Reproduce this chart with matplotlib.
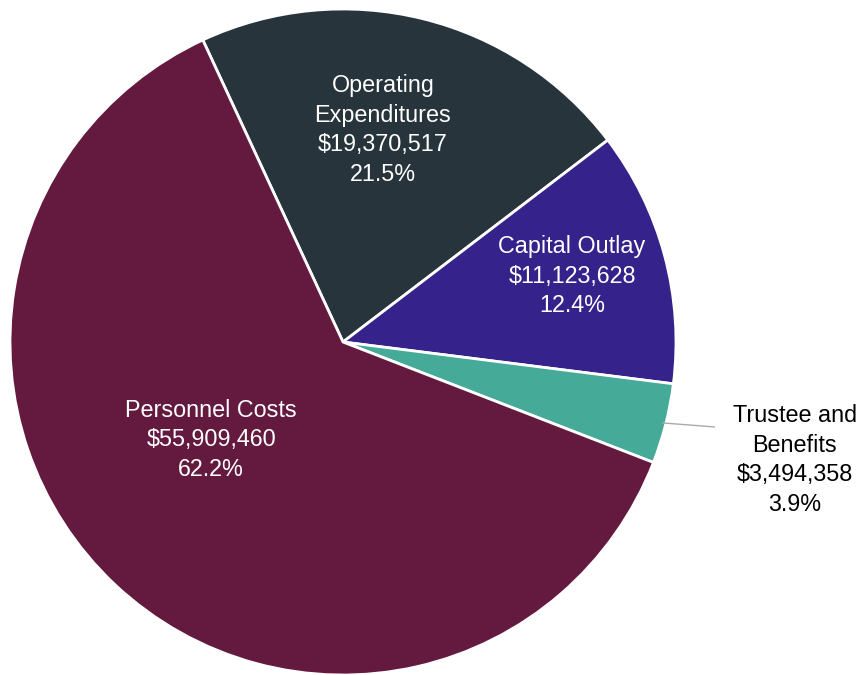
import numpy as np
import matplotlib
matplotlib.use("Agg")
import matplotlib.pyplot as plt

plt.rcParams['font.family'] = ['Liberation Sans', 'DejaVu Sans']

categories = ["Operating\nExpenditures", "Capital Outlay", "Trustee and\nBenefits", "Personnel Costs"]
amounts = [19370517, 11123628, 3494358, 55909460]
percents = ["21.5%", "12.4%", "3.9%", "62.2%"]
colors = ["#27343c", "#35228a", "#45aa98", "#641a3f"]

# label anchor points in pie-radius units
label_xy = [(0.12, 0.637), (0.688, 0.198), (1.357, -0.354), (-0.396, -0.294)]

W, H = 860, 675
cx, cy, R = 343, 342, 333

fig = plt.figure(figsize=(W / 100, H / 100), dpi=100)
ax = fig.add_axes([0, 0, 1, 1])

wedges, _ = ax.pie(amounts, colors=colors, startangle=114.9, counterclock=False,
                   radius=1, center=(0, 0),
                   wedgeprops=dict(edgecolor="white", linewidth=2))

for i, (name, amt, pct) in enumerate(zip(categories, amounts, percents)):
    txt = f"{name}\n${amt:,.0f}\n{pct}"
    outside = i == 2
    ax.text(label_xy[i][0], label_xy[i][1], txt, ha="center", va="center",
            fontsize=16.8, linespacing=1.36, multialignment="center",
            color="black" if outside else "white")
    if outside:
        w = wedges[i]
        mid = np.deg2rad((w.theta1 + w.theta2) / 2)
        ax.plot([np.cos(mid) * 0.99, np.cos(mid) * 1.15],
                [np.sin(mid) * 0.99, np.sin(mid) * 0.99 - 0.012],
                color="#aaaaaa", linewidth=1)

ax.set_xlim(-cx / R, (W - cx) / R)
ax.set_ylim(-(H - cy) / R, cy / R)
ax.set_aspect("equal")
ax.axis("off")

fig.savefig("out.png", dpi=100)
